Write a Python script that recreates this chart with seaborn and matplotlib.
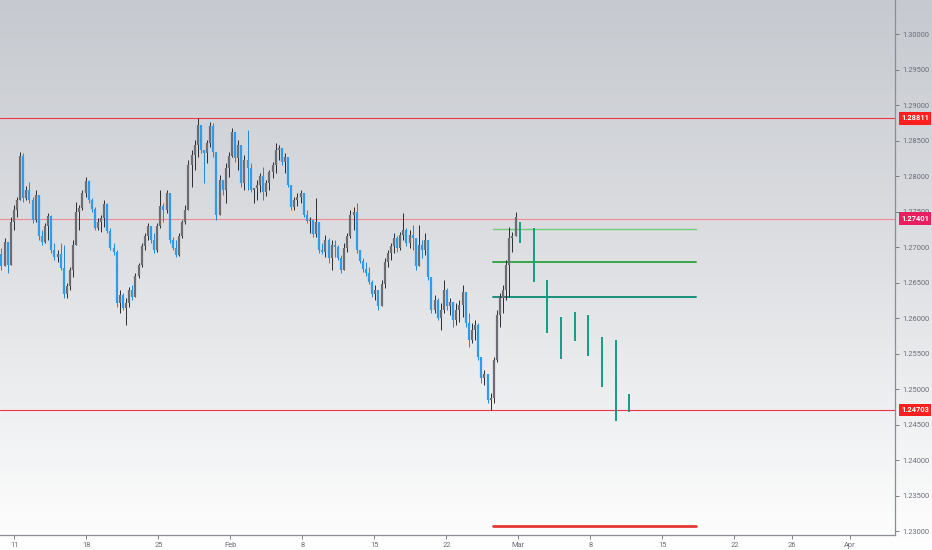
import numpy as np
import pandas as pd
import matplotlib
matplotlib.use("Agg")
import matplotlib.pyplot as plt
import matplotlib.transforms as mtransforms
from matplotlib.colors import LinearSegmentedColormap
import seaborn as sns

sns.set_theme(style="white")
plt.rcParams["font.family"] = ["Roboto", "DejaVu Sans"]

# ---- price bars (Jan 8 -> Mar 1) ----
first_open = 1.2690
highs = [1.2699, 1.2713, 1.2706, 1.2742, 1.2759, 1.2770, 1.2834, 1.2833, 1.2786, 1.2791,
         1.2770, 1.2780, 1.2773, 1.2724, 1.2734, 1.2748, 1.2745, 1.2706, 1.2696, 1.2706,
         1.2703, 1.2649, 1.2672, 1.2710, 1.2763, 1.2759, 1.2780, 1.2799, 1.2794, 1.2769,
         1.2756, 1.2741, 1.2745, 1.2766, 1.2762, 1.2727, 1.2706, 1.2696, 1.2639, 1.2635,
         1.2628, 1.2644, 1.2646, 1.2663, 1.2678, 1.2706, 1.2720, 1.2734, 1.2730, 1.2720,
         1.2734, 1.2780, 1.2762, 1.2780, 1.2776, 1.2714, 1.2710, 1.2720, 1.2738, 1.2759,
         1.2823, 1.2837, 1.2851, 1.2882, 1.2872, 1.2837, 1.2851, 1.2876, 1.2875, 1.2823,
         1.2801, 1.2794, 1.2818, 1.2834, 1.2868, 1.2858, 1.2851, 1.2844, 1.2830, 1.2865,
         1.2818, 1.2783, 1.2794, 1.2804, 1.2813, 1.2794, 1.2808, 1.2820, 1.2846, 1.2844,
         1.2837, 1.2833, 1.2823, 1.2787, 1.2770, 1.2776, 1.2780, 1.2773, 1.2752, 1.2742,
         1.2738, 1.2769, 1.2735, 1.2706, 1.2717, 1.2713, 1.2710, 1.2710, 1.2703, 1.2689,
         1.2706, 1.2720, 1.2752, 1.2756, 1.2762, 1.2696, 1.2685, 1.2679, 1.2672, 1.2654,
         1.2646, 1.2639, 1.2654, 1.2685, 1.2696, 1.2706, 1.2720, 1.2716, 1.2721, 1.2748,
         1.2727, 1.2724, 1.2731, 1.2710, 1.2731, 1.2710, 1.2720, 1.2703, 1.2658, 1.2632,
         1.2628, 1.2621, 1.2654, 1.2642, 1.2628, 1.2618, 1.2621, 1.2625, 1.2646, 1.2632,
         1.2607, 1.2593, 1.2597, 1.2593, 1.2545, 1.2527, 1.2515, 1.2494, 1.2545, 1.2611,
         1.2635, 1.2646, 1.2682, 1.2728, 1.2721, 1.2750]
lows = [1.2668, 1.2673, 1.2663, 1.2675, 1.2724, 1.2742, 1.2766, 1.2763, 1.2766, 1.2762,
        1.2734, 1.2735, 1.2710, 1.2703, 1.2706, 1.2710, 1.2692, 1.2682, 1.2679, 1.2668,
        1.2628, 1.2628, 1.2639, 1.2658, 1.2703, 1.2724, 1.2752, 1.2770, 1.2762, 1.2749,
        1.2724, 1.2724, 1.2721, 1.2728, 1.2720, 1.2696, 1.2689, 1.2616, 1.2607, 1.2611,
        1.2590, 1.2616, 1.2625, 1.2632, 1.2656, 1.2672, 1.2696, 1.2710, 1.2706, 1.2692,
        1.2693, 1.2727, 1.2735, 1.2748, 1.2706, 1.2696, 1.2686, 1.2687, 1.2713, 1.2732,
        1.2755, 1.2784, 1.2808, 1.2827, 1.2833, 1.2790, 1.2818, 1.2841, 1.2827, 1.2738,
        1.2745, 1.2773, 1.2762, 1.2799, 1.2827, 1.2820, 1.2808, 1.2784, 1.2780, 1.2780,
        1.2777, 1.2762, 1.2766, 1.2777, 1.2766, 1.2772, 1.2780, 1.2797, 1.2804, 1.2823,
        1.2816, 1.2804, 1.2784, 1.2752, 1.2752, 1.2758, 1.2762, 1.2742, 1.2734, 1.2720,
        1.2714, 1.2714, 1.2692, 1.2690, 1.2686, 1.2678, 1.2668, 1.2686, 1.2682, 1.2663,
        1.2670, 1.2693, 1.2713, 1.2724, 1.2692, 1.2678, 1.2665, 1.2659, 1.2648, 1.2630,
        1.2625, 1.2611, 1.2618, 1.2642, 1.2672, 1.2682, 1.2692, 1.2693, 1.2696, 1.2710,
        1.2701, 1.2699, 1.2696, 1.2668, 1.2679, 1.2685, 1.2689, 1.2654, 1.2607, 1.2607,
        1.2597, 1.2583, 1.2607, 1.2611, 1.2604, 1.2587, 1.2590, 1.2594, 1.2601, 1.2587,
        1.2559, 1.2565, 1.2569, 1.2541, 1.2509, 1.2506, 1.2480, 1.2470, 1.2480, 1.2538,
        1.2587, 1.2607, 1.2625, 1.2630, 1.2693, 1.2717]
closes = [1.2673, 1.2707, 1.2675, 1.2735, 1.2752, 1.2766, 1.2828, 1.2769, 1.2780, 1.2766,
          1.2738, 1.2773, 1.2716, 1.2707, 1.2730, 1.2744, 1.2696, 1.2686, 1.2690, 1.2670,
          1.2634, 1.2645, 1.2668, 1.2703, 1.2749, 1.2755, 1.2776, 1.2793, 1.2766, 1.2754,
          1.2727, 1.2735, 1.2741, 1.2761, 1.2723, 1.2699, 1.2693, 1.2621, 1.2632, 1.2614,
          1.2621, 1.2639, 1.2630, 1.2659, 1.2675, 1.2701, 1.2716, 1.2730, 1.2710, 1.2696,
          1.2730, 1.2758, 1.2752, 1.2776, 1.2710, 1.2699, 1.2689, 1.2716, 1.2735, 1.2752,
          1.2816, 1.2830, 1.2844, 1.2872, 1.2837, 1.2833, 1.2846, 1.2870, 1.2834, 1.2745,
          1.2794, 1.2780, 1.2811, 1.2828, 1.2862, 1.2826, 1.2844, 1.2790, 1.2823, 1.2811,
          1.2780, 1.2783, 1.2788, 1.2800, 1.2777, 1.2790, 1.2806, 1.2816, 1.2837, 1.2839,
          1.2820, 1.2827, 1.2787, 1.2756, 1.2766, 1.2770, 1.2776, 1.2745, 1.2737, 1.2738,
          1.2718, 1.2735, 1.2696, 1.2693, 1.2710, 1.2685, 1.2703, 1.2700, 1.2685, 1.2668,
          1.2699, 1.2716, 1.2745, 1.2749, 1.2696, 1.2680, 1.2669, 1.2663, 1.2651, 1.2634,
          1.2639, 1.2617, 1.2648, 1.2679, 1.2692, 1.2701, 1.2713, 1.2699, 1.2717, 1.2724,
          1.2706, 1.2717, 1.2713, 1.2673, 1.2703, 1.2696, 1.2710, 1.2658, 1.2611, 1.2625,
          1.2600, 1.2611, 1.2639, 1.2617, 1.2622, 1.2597, 1.2611, 1.2618, 1.2637, 1.2593,
          1.2569, 1.2583, 1.2590, 1.2545, 1.2515, 1.2521, 1.2484, 1.2487, 1.2541, 1.2604,
          1.2628, 1.2639, 1.2675, 1.2713, 1.2716, 1.2742]

# ---- projected bar pattern (teal) ----
proj_hi = [1.2735, 1.2727, 1.2654, 1.2601, 1.2608, 1.2604, 1.2573, 1.2569, 1.2493]
proj_lo = [1.2706, 1.2651, 1.2579, 1.2542, 1.2568, 1.2546, 1.2503, 1.2455, 1.2468]

# ---- levels ----
full_levels = [1.28811, 1.27401, 1.24703]
full_colors = ["#f23645", "#ef8a93", "#f23645"]
label_colors = ["#ff1f1f", "#e91e5e", "#ff1f1f"]
short_levels = [1.27254, 1.26784, 1.26300, 1.23070]
short_colors = ["#74c978", "#3aa648", "#17907f", "#e53935"]
short_widths = [1.0, 1.4, 1.4, 2.0]

tick_dates = ["2021-01-11", "2021-01-18", "2021-01-25", "2021-02-01", "2021-02-08",
              "2021-02-15", "2021-02-22", "2021-03-01", "2021-03-08", "2021-03-15",
              "2021-03-22", "2021-03-26", "2021-04-01"]
tick_labels = ["11", "18", "25", "Feb", "8", "15", "22", "Mar", "8", "15", "22", "26", "Apr"]
price_ticks = np.arange(1.230, 1.3001, 0.005)

# trading-day axis (weekends skipped like the original chart)
bdays = pd.bdate_range("2021-01-08", "2021-04-30")
tick_pos = [bdays.get_loc(pd.Timestamp(d)) for d in tick_dates]

fig = plt.figure(figsize=(9.32, 5.5), dpi=100)

# vertical background gradient
bg = fig.add_axes([0, 0, 1, 1], zorder=-1)
grad = np.linspace(0, 1, 256).reshape(-1, 1)
cmap = LinearSegmentedColormap.from_list("bg", ["#c6c9cf", "#dfe1e4", "#ffffff"])
bg.imshow(grad, aspect="auto", cmap=cmap, extent=[0, 1, 0, 1], origin="upper")
bg.axis("off")

ax = fig.add_axes([0, 15 / 550, 895 / 932, 535 / 550])
ax.patch.set_alpha(0)

n = len(closes)
xs = np.linspace(0.1, 35.8, n)
o = np.array([first_open] + closes[:-1])
c = np.array(closes)
h = np.maximum(np.array(highs), np.maximum(o, c))
l = np.minimum(np.array(lows), np.minimum(o, c))
up = c >= o
body_col = np.where(up, "#6b6d73", "#2f9bef")
wick_col = np.where(up, "#2b2c30", "#1e88e5")

# full-width levels
for lev, col in zip(full_levels, full_colors):
    ax.axhline(lev, color=col, lw=0.8, zorder=1)

ax.vlines(xs, l, h, colors=wick_col, lw=0.7, zorder=3)
ax.vlines(xs, np.minimum(o, c), np.maximum(o, c), colors=body_col, lw=1.6, zorder=4)

# short levels on the right part
seg_x0, seg_x1 = 34.2, 48.3
for lev, col, w in zip(short_levels, short_colors, short_widths):
    sns.lineplot(x=[seg_x0, seg_x1], y=[lev, lev], color=col, lw=w, ax=ax, zorder=2)

# projected bars
proj_x = 36.1 + 0.95 * np.arange(len(proj_hi))
ax.vlines(proj_x, proj_lo, proj_hi, colors="#139c86", lw=1.4, zorder=5)

ax.set_xlim(0, 62.15)
ax.set_ylim(1.22944, 1.30479)

ax.yaxis.tick_right()
ax.set_yticks(price_ticks)
ax.set_yticklabels([f"{v:.5f}" for v in price_ticks])
ax.set_xticks(tick_pos)
ax.set_xticklabels(tick_labels)
ax.tick_params(axis="both", labelsize=5.4, colors="#6a6d77", length=3, width=0.6,
               pad=2, bottom=True, right=True)
for s in ["top", "left"]:
    ax.spines[s].set_visible(False)
for s in ["right", "bottom"]:
    ax.spines[s].set_color("#8a8d96")
    ax.spines[s].set_linewidth(0.9)
ax.grid(False)
ax.set_xlabel("")
ax.set_ylabel("")

# price labels on the axis
trans = mtransforms.blended_transform_factory(ax.transAxes, ax.transData)
for lev, col in zip(full_levels, label_colors):
    ax.text(1.007, lev, f"{lev:.5f}", transform=trans, ha="left", va="center",
            fontsize=5.4, color="white", fontweight="bold", zorder=10, clip_on=False,
            bbox=dict(boxstyle="square,pad=0.3", fc=col, ec="none"))

fig.savefig("out.png", dpi=100)
